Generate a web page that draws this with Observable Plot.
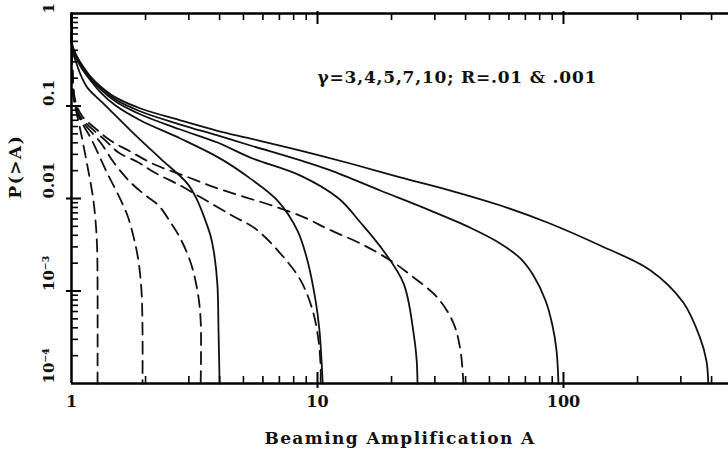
<!DOCTYPE html>
<html><head><meta charset="utf-8">
<script src="https://cdn.jsdelivr.net/npm/d3@7"></script>
<script src="https://cdn.jsdelivr.net/npm/@observablehq/plot@0.6"></script>
<style>html,body{margin:0;padding:0;background:#fff} svg{display:block}</style>
</head><body><div id="chart"></div>
<script>
// Series: [A, P(>A)]
// Solid curves: R = .01, gamma = 3,4,5,7,10
const solidG3 = [[1,1],[1.003,0.655],[1.009,0.398],[1.048,0.288],[1.088,0.219],[1.16,0.158],[1.349,0.106],[1.74,0.0543],[2.30,0.027],[2.96,0.0145],[3.25,0.0095],[3.50,0.0058],[3.67,0.004],[3.81,0.00242],[3.92,0.00115],[3.96,0.00037],[4.0,0.0001]];
const solidG4 = [[1,1],[1.003,0.655],[1.009,0.418],[1.048,0.326],[1.108,0.248],[1.195,0.189],[1.312,0.14],[1.51,0.101],[1.91,0.0697],[2.77,0.0445],[4.03,0.027],[5.34,0.0164],[6.88,0.0095],[8.29,0.0045],[9.1,0.00214],[9.82,0.00079],[10.19,0.00037],[10.38,0.00018],[10.5,0.0001]];
const solidG5 = [[1,1],[1.003,0.655],[1.009,0.429],[1.048,0.334],[1.108,0.261],[1.195,0.198],[1.312,0.151],[1.51,0.112],[1.91,0.081],[2.77,0.0557],[3.92,0.0403],[5.34,0.0277],[8.53,0.0177],[12.2,0.01],[14.95,0.0055],[18.5,0.00274],[22.4,0.0012],[24.6,0.000347],[25.3,0.00018],[25.5,0.0001]];
const solidG7 = [[1,1],[1.003,0.655],[1.009,0.44],[1.048,0.343],[1.108,0.267],[1.195,0.203],[1.312,0.158],[1.51,0.1175],[1.91,0.0872],[2.77,0.063],[3.92,0.048],[5.34,0.0374],[8.53,0.0258],[11.3,0.0201],[18.0,0.0122],[28.8,0.0074],[42,0.0048],[55.5,0.00325],[66.8,0.00225],[75.5,0.00147],[84.5,0.00079],[90.2,0.000424],[93.7,0.000227],[95.4,0.0001]];
const solidG10 = [[1,1],[1.003,0.655],[1.009,0.451],[1.048,0.351],[1.108,0.274],[1.195,0.208],[1.312,0.163],[1.51,0.124],[1.91,0.094],[2.77,0.070],[3.92,0.054],[5.34,0.0445],[8.53,0.033],[13.6,0.0239],[21.7,0.0169],[34.7,0.0122],[55.5,0.0084],[86,0.0055],[141,0.0031],[226,0.00167],[307,0.00075],[360,0.000306],[381,0.000177],[388,0.0001]];
// Dashed curves: R = .001, gamma = 3,4,5,7,10
const dashG3 = [[1,1],[1.005,0.31],[1.019,0.13],[1.048,0.085],[1.088,0.054],[1.129,0.033],[1.16,0.0227],[1.195,0.0149],[1.228,0.0095],[1.252,0.0058],[1.27,0.0031],[1.276,0.0013],[1.276,0.0001]];
const dashG4 = [[1,1],[1.005,0.31],[1.019,0.124],[1.058,0.083],[1.119,0.0615],[1.195,0.0456],[1.312,0.027],[1.40,0.0186],[1.54,0.0113],[1.69,0.0065],[1.79,0.0038],[1.87,0.00214],[1.925,0.00101],[1.944,0.00037],[1.944,0.0001]];
const dashG5 = [[1,1],[1.005,0.31],[1.028,0.1175],[1.068,0.081],[1.151,0.06],[1.312,0.0403],[1.496,0.0239],[1.74,0.0149],[2.0,0.0108],[2.26,0.0084],[2.53,0.0055],[2.77,0.0037],[3.05,0.00203],[3.25,0.00101],[3.35,0.00048],[3.35,0.0001]];
const dashG7 = [[1,1],[1.005,0.31],[1.028,0.115],[1.078,0.079],[1.195,0.0586],[1.375,0.0423],[1.553,0.0314],[1.873,0.0245],[2.175,0.0191],[2.77,0.0138],[3.35,0.0103],[4.51,0.0065],[5.6,0.0047],[7.07,0.00254],[8.53,0.00131],[9.55,0.00062],[10.1,0.00029],[10.3,0.000149],[10.3,0.0001]];
const dashG10 = [[1,1],[1.005,0.31],[1.038,0.112],[1.108,0.077],[1.252,0.0571],[1.44,0.0423],[1.705,0.033],[2.175,0.0233],[2.93,0.0173],[3.85,0.0131],[5.1,0.0103],[6.81,0.0081],[9.02,0.0061],[10.98,0.0047],[14.95,0.00326],[19.8,0.00214],[24.6,0.0014],[30.7,0.00085],[35.7,0.00045],[38.1,0.00023],[39.2,0.0001]];

const gammas = [3, 4, 5, 7, 10];
const solidSeries = [solidG3, solidG4, solidG5, solidG7, solidG10];
const dashSeries = [dashG3, dashG4, dashG5, dashG7, dashG10];

// Ticks and labels
const xTickValues = [1, 10, 100];
const xTickLabels = ["1", "10", "100"];
const xMajorTicks = [10, 100];
const xMinorTicks = [2,3,4,5,6,7,8,9,20,30,40,50,60,70,80,90,200,300,400];
const yTickValues = [1, 0.1, 0.01, 0.001, 0.0001];
const yTickLabels = ["1", "0.1", "0.01", "10\u207B\u00B3", "10\u207B\u2074"];
const yMajorTicks = [0.1, 0.01, 0.001];
const yMinorTicks = [0.0002,0.0003,0.0004,0.0005,0.0006,0.0007,0.0008,0.0009,
  0.002,0.003,0.004,0.005,0.006,0.007,0.008,0.009,
  0.02,0.03,0.04,0.05,0.06,0.07,0.08,0.09,
  0.2,0.3,0.4,0.5,0.6,0.7,0.8,0.9];
const xLabel = "Beaming Amplification A";
const yLabel = "P(>A)";
const annotation = "\u03B3=3,4,5,7,10; R=.01 & .001";

const toRows = (series, tag) => series.flatMap((pts, i) => pts.map(([A, P]) => ({A, P, key: tag + gammas[i]})));
const solidRows = toRows(solidSeries, "s");
const dashRows = toRows(dashSeries, "d");

const xMin = 1, xMax = 468.6, yMin = 0.0001, yMax = 1;
const W = 728, H = 455, mL = 71, mR = 0, mT = 13, mB = 72;
const font = {fontFamily: "DejaVu Serif", fontWeight: "bold", fill: "#111"};
const ink = "black";

const chart = Plot.plot({
  width: W, height: H,
  marginLeft: mL, marginRight: mR, marginTop: mT, marginBottom: mB,
  x: {type: "log", domain: [xMin, xMax], axis: null},
  y: {type: "log", domain: [yMin, yMax], axis: null},
  style: {background: "#fff"},
  marks: [
    // curves
    Plot.line(solidRows, {x: "A", y: "P", z: "key", stroke: "#111", strokeWidth: 1.8, curve: "catmull-rom"}),
    Plot.line(dashRows, {x: "A", y: "P", z: "key", stroke: "#111", strokeWidth: 1.8, strokeDasharray: "12,7", curve: "catmull-rom"}),
    // inward ticks as zero-length rules extended by pixel insets
    Plot.ruleX(xMinorTicks, {x: d => d, y1: yMin, y2: yMin, insetTop: -7, stroke: ink, strokeWidth: 1.6}),
    Plot.ruleX(xMajorTicks, {x: d => d, y1: yMin, y2: yMin, insetTop: -11, insetBottom: -5, stroke: ink, strokeWidth: 2}),
    Plot.ruleX(xMinorTicks, {x: d => d, y1: yMax, y2: yMax, insetBottom: -7, stroke: ink, strokeWidth: 1.6}),
    Plot.ruleX(xMajorTicks, {x: d => d, y1: yMax, y2: yMax, insetBottom: -11, insetTop: -2, stroke: ink, strokeWidth: 2}),
    Plot.ruleY(yMinorTicks, {y: d => d, x1: xMin, x2: xMin, insetRight: -7, stroke: ink, strokeWidth: 1.6}),
    Plot.ruleY(yMajorTicks, {y: d => d, x1: xMin, x2: xMin, insetRight: -10, insetLeft: -5, stroke: ink, strokeWidth: 2}),
    // frame
    Plot.ruleY([yMin, yMax], {stroke: ink, strokeWidth: 2.5}),
    Plot.ruleX([xMin], {stroke: ink, strokeWidth: 2.5}),
    // tick labels
    Plot.text(xTickValues, {x: d => d, text: (d, i) => xTickLabels[i], frameAnchor: "bottom", dy: 23, fontSize: 16, ...font}),
    Plot.text(yTickValues, {y: d => d, text: (d, i) => yTickLabels[i], frameAnchor: "left", dx: -22, rotate: -90, fontSize: 15, ...font}),
    // axis titles
    Plot.text([xLabel], {text: d => d, frameAnchor: "bottom", dy: 60, fontSize: 17, ...font}),
    Plot.text([yLabel], {text: d => d, frameAnchor: "left", dx: -56, rotate: -90, fontSize: 17, ...font}),
    // annotation
    Plot.text([{A: 10, P: 0.205, label: annotation}], {x: "A", y: "P", text: "label", textAnchor: "start", fontSize: 17, ...font})
  ]
});

d3.select(chart).selectAll("text").each(function() {
  const t = this.textContent;
  if (t === xLabel) this.style.letterSpacing = "1.4px";
  else if (t === annotation) this.style.letterSpacing = "0.8px";
  else if (t === yLabel) this.style.letterSpacing = "1.5px";
});

document.getElementById("chart").appendChild(chart);
</script>
</body></html>
